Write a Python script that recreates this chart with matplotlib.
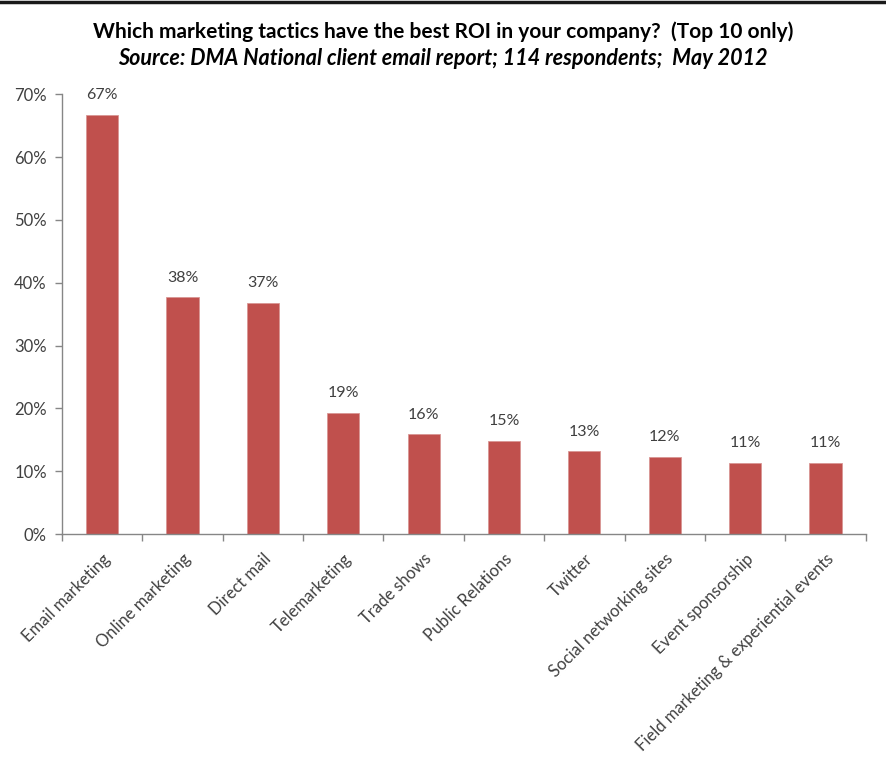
import numpy as np
import matplotlib.pyplot as plt
from matplotlib.ticker import FuncFormatter, FixedLocator

# dados
tactics = ["Email marketing", "Online marketing", "Direct mail", "Telemarketing",
           "Trade shows", "Public Relations", "Twitter", "Social networking sites",
           "Event sponsorship", "Field marketing & experiential events"]
roi_share = [66.7, 37.7, 36.8, 19.3, 15.9, 14.9, 13.2, 12.3, 11.4, 11.4]
value_labels = ["67%", "38%", "37%", "19%", "16%", "15%", "13%", "12%", "11%", "11%"]

plt.rcParams['font.family'] = ['Lato', 'DejaVu Sans']
txt_color = '#404040'
bar_color = '#C0504D'

fig = plt.figure(figsize=(8.86, 7.72), dpi=100)
ax = fig.add_axes([0.070, 0.308, 0.907, 0.570])

x = np.arange(len(tactics))
bars = ax.bar(x, roi_share, width=0.4, color=bar_color, edgecolor='#D99694', linewidth=0.6)

for xi, v, lab in zip(x, roi_share, value_labels):
    ax.text(xi, v + 2.0, lab, ha='center', va='bottom', fontsize=11.5, color=txt_color)

ax.set_xlim(-0.5, len(tactics) - 0.5)
ax.set_ylim(0, 70)
ax.set_yticks(np.arange(0, 71, 10))
ax.yaxis.set_major_formatter(FuncFormatter(lambda v, p: f"{int(v)}%"))
ax.tick_params(axis='y', labelsize=12, labelcolor=txt_color, color='#868686', length=5, width=1, pad=6)

ax.set_xticks(x)
ax.set_xticklabels(tactics, rotation=45, ha='right', rotation_mode='anchor',
                   fontsize=12, color=txt_color)
ax.tick_params(axis='x', which='major', length=0, pad=12)
ax.xaxis.set_minor_locator(FixedLocator(np.arange(-0.5, len(tactics), 1.0)))
ax.tick_params(axis='x', which='minor', length=5, color='#868686', width=1)

for s in ['top', 'right']:
    ax.spines[s].set_visible(False)
for s in ['left', 'bottom']:
    ax.spines[s].set_color('#868686')
    ax.spines[s].set_linewidth(1)

fig.text(0.5, 0.959, "Which marketing tactics have the best ROI in your company?  (Top 10 only)",
         ha='center', va='center', fontsize=15, fontweight='bold', color='black')
fig.text(0.5, 0.924, "Source: DMA National client email report; 114 respondents;  May 2012",
         ha='center', va='center', fontsize=15.5, fontweight='bold', style='italic', color='black')

# linha preta no topo da figura
fig.add_artist(plt.Line2D([0, 1], [0.998, 0.998], color='#1a1a1a', linewidth=2.5,
                          transform=fig.transFigure))

plt.savefig('out.png', dpi=100)
